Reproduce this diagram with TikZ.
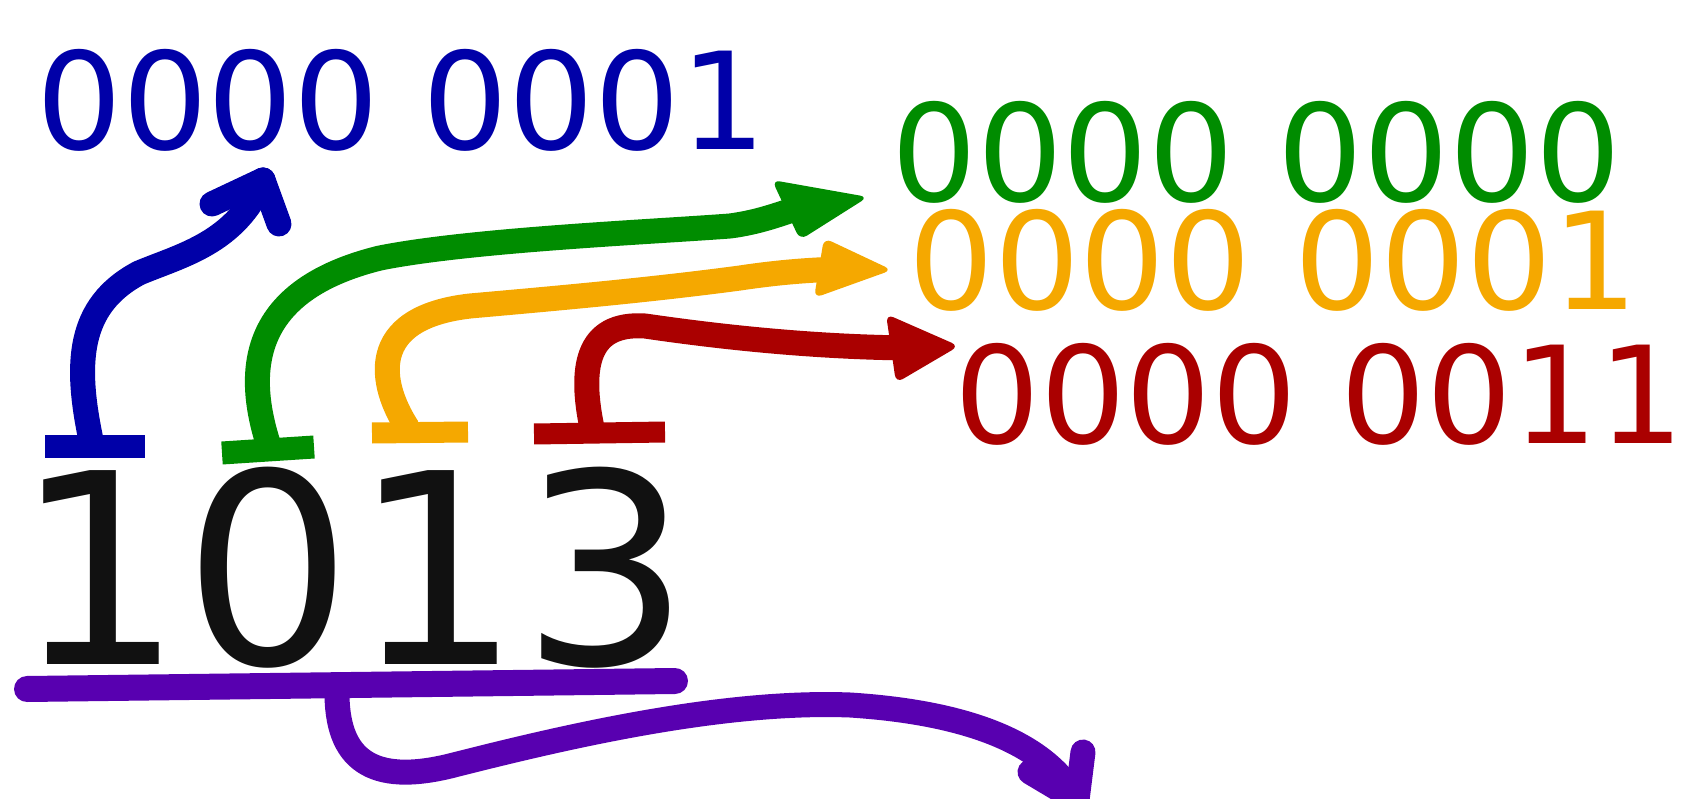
\documentclass[tikz,border=0pt]{standalone}
\usepackage{fontspec}
\setmainfont{DejaVu Sans}
\definecolor{cblue}{RGB}{0,0,168}
\definecolor{cgreen}{RGB}{0,140,0}
\definecolor{corange}{RGB}{245,168,0}
\definecolor{cred}{RGB}{170,0,0}
\definecolor{cpurple}{RGB}{88,0,176}
\definecolor{cink}{RGB}{17,17,17}
\begin{document}
\begin{tikzpicture}[x=1pt,y=-1pt,
  bits/.style={anchor=base west, inner sep=0pt, text height=0.74em, text depth=0pt,
    font=\fontsize{135}{135}\selectfont},
  bignum/.style={anchor=base west, inner sep=0pt, text height=0.74em, text depth=0pt,
    text=cink, font=\fontsize{266}{266}\selectfont},
  stroke/.style={line width=25pt, line cap=round},
  barb/.style={line width=25pt, line cap=round},
  head/.style={rounded corners=8pt},
  bar/.style={line width=23pt, line cap=butt},
]
\useasboundingbox (0,0) rectangle (1681,799);

% the number and its byte values
\node[bignum] (num) at (14,664) {1013};
\node[bits, text=cblue]   (hex1) at (36,150)  {0000 0001};
\node[bits, text=cgreen]  (hex0) at (891,202) {0000 0000};
\node[bits, text=corange] (hex1b) at (908,310) {0000 0001};
\node[bits, text=cred]    (hex3) at (954,443) {0000 0011};

% brackets over each digit
\coordinate (sb) at (91,440);
\coordinate (sg) at (268,443);
\coordinate (so) at (407,427);
\coordinate (sr) at (592,428);
\draw[bar, cblue]   (45,446) -- (145,446);
\draw[bar, cgreen]  (222,453) -- (314,447);
\draw[bar, corange, line width=21pt] (372,433) -- (468,432);
\draw[bar, cred, line width=21pt]    (534,434) -- (665,432);

% arrow tips
\coordinate (tb) at (263,180);
\coordinate (tg) at (868,197);
\coordinate (to) at (892,270);
\coordinate (tr) at (959,346);
\coordinate (tp) at (1077,800);

% blue
\draw[stroke, cblue] (sb) .. controls (75,364) and (77,306) .. (139,273)
  .. controls (182,255) and (236,243) .. (tb);
\draw[barb, cblue] (212,204) -- (tb);
\draw[barb, cblue] (tb) -- (279,224);

% green
\draw[stroke, cgreen] (sg) .. controls (245,370) and (250,290) .. (380,258)
  .. controls (470,240) and (650,232) .. (730,226)
  .. controls (760,222) and (780,214) .. (810,204);
\fill[head, cgreen] (772,180) -- (tg) -- (800,240) -- cycle;

% orange
\draw[stroke, corange] (so) .. controls (380,385) and (365,318) .. (470,306)
  .. controls (560,298) and (650,290) .. (740,278)
  .. controls (780,272) and (810,270) .. (840,269);
\fill[head, corange] (824,238) -- (to) -- (814,298) -- cycle;

% red
\draw[stroke, cred] (sr) .. controls (580,370) and (585,322) .. (645,326)
  .. controls (700,334) and (800,347) .. (910,348);
\fill[head, cred] (886,314) -- (tr) -- (896,383) -- cycle;

% purple underline and arrow
\coordinate (sp) at (337,690);
\draw[line width=26pt, line cap=round, cpurple] (27,689) -- (675,681);
\draw[stroke, cpurple] (sp) .. controls (336,760) and (372,785) .. (450,766)
  .. controls (560,738) and (720,700) .. (850,705)
  .. controls (960,712) and (1045,740) .. (tp);
\draw[barb, cpurple] (1030,772) -- (tp);
\draw[barb, cpurple] (tp) -- (1083,752);
\end{tikzpicture}
\end{document}
